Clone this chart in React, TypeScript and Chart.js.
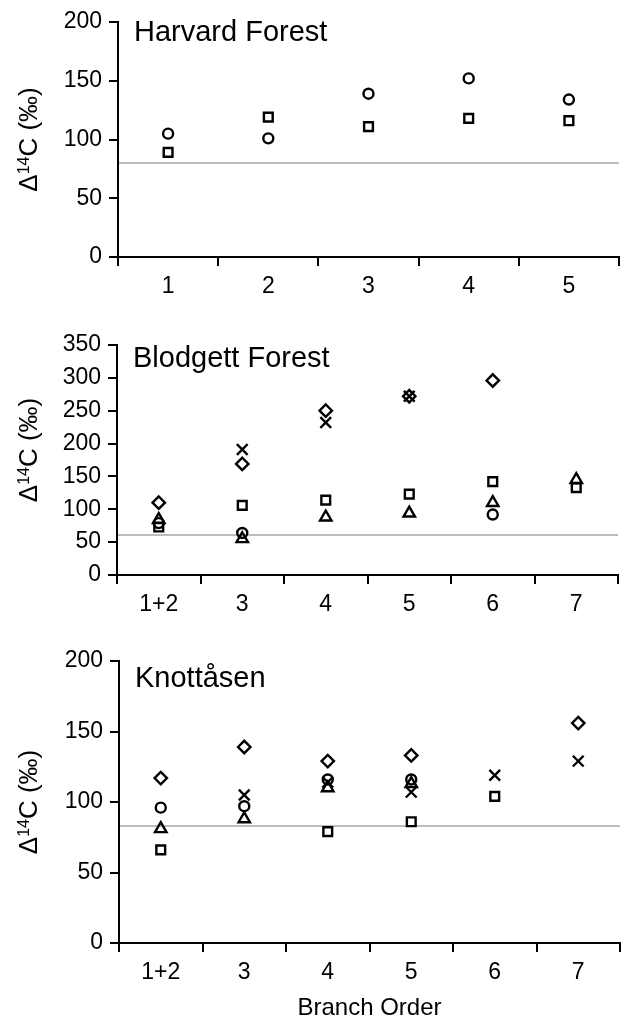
import React, { useEffect, useRef } from "react";
import { Chart, registerables } from "chart.js";

Chart.register(...registerables);

const FONT = "'Liberation Sans', Arial, Helvetica, sans-serif";

// ---------- Harvard Forest ----------
const harvardCategories = ["1", "2", "3", "4", "5"];
const harvardCircle = [105, 101, 139, 152, 134];
const harvardSquare = [89, 119, 111, 118, 116];
const harvardReference = 80;
const harvardMax = 200;

// ---------- Blodgett Forest ----------
const blodgettCategories = ["1+2", "3", "4", "5", "6", "7"];
const blodgettDiamond = [110, 169, 250, 272, 296, null];
const blodgettCross = [null, 191, 232, 272, null, null];
const blodgettSquare = [73, 106, 114, 123, 142, 133];
const blodgettTriangle = [84, 55, 88, 94, 110, 145];
const blodgettCircle = [79, 64, null, null, 92, null];
const blodgettReference = 61;
const blodgettMax = 350;

// ---------- Knottåsen ----------
const knottasenCategories = ["1+2", "3", "4", "5", "6", "7"];
const knottasenDiamond = [117, 139, 129, 133, null, 156];
const knottasenCross = [null, 105, 114, 107, 119, 129];
const knottasenCircle = [96, 97, 116, 116, null, null];
const knottasenTriangle = [81, 88, 110, 113, null, null];
const knottasenSquare = [66, null, 79, 86, 104, null];
const knottasenReference = 83;
const knottasenMax = 200;

const tickStep = 50;

type Series = { name: string; style: string; data: (number | null)[] };

const markerRadius: Record<string, number> = {
  circle: 5,
  rect: 6.2,
  triangle: 6.6,
  rectRot: 6.2,
  crossRot: 7.6,
};

type Panel = {
  title: string;
  categories: string[];
  series: Series[];
  reference: number;
  max: number;
  top: number;
  height: number;
  padTop: number;
  padRight: number;
  padBottom: number;
  axisLeft: number;
  titleBaseline: number; // offset from chart area top
  yTitleShift: number;
  xTitle?: string;
};

const panels: Panel[] = [
  {
    title: "Harvard Forest",
    categories: harvardCategories,
    series: [
      { name: "circle", style: "circle", data: harvardCircle },
      { name: "square", style: "rect", data: harvardSquare },
    ],
    reference: harvardReference,
    max: harvardMax,
    top: 0,
    height: 310,
    padTop: 22,
    padRight: 21,
    padBottom: 13,
    axisLeft: 118,
    titleBaseline: 19,
    yTitleShift: 0,
  },
  {
    title: "Blodgett Forest",
    categories: blodgettCategories,
    series: [
      { name: "diamond", style: "rectRot", data: blodgettDiamond },
      { name: "cross", style: "crossRot", data: blodgettCross },
      { name: "square", style: "rect", data: blodgettSquare },
      { name: "triangle", style: "triangle", data: blodgettTriangle },
      { name: "circle", style: "circle", data: blodgettCircle },
    ],
    reference: blodgettReference,
    max: blodgettMax,
    top: 310,
    height: 310,
    padTop: 35,
    padRight: 22,
    padBottom: 5,
    axisLeft: 117,
    titleBaseline: 22,
    yTitleShift: -10,
  },
  {
    title: "Knottåsen",
    categories: knottasenCategories,
    series: [
      { name: "diamond", style: "rectRot", data: knottasenDiamond },
      { name: "cross", style: "crossRot", data: knottasenCross },
      { name: "circle", style: "circle", data: knottasenCircle },
      { name: "triangle", style: "triangle", data: knottasenTriangle },
      { name: "square", style: "rect", data: knottasenSquare },
    ],
    reference: knottasenReference,
    max: knottasenMax,
    top: 620,
    height: 396,
    padTop: 41,
    padRight: 20,
    padBottom: 33,
    axisLeft: 119,
    titleBaseline: 26,
    yTitleShift: 0,
    xTitle: "Branch Order",
  },
];

function drawYTitle(ctx: CanvasRenderingContext2D, cx: number, cy: number) {
  const big = 26;
  const small = 16;
  ctx.save();
  ctx.translate(cx, cy);
  ctx.rotate(-Math.PI / 2);
  ctx.fillStyle = "#000";
  ctx.textBaseline = "alphabetic";
  ctx.textAlign = "left";
  ctx.font = `${big}px ${FONT}`;
  const wD = ctx.measureText("Δ").width;
  const wRest = ctx.measureText("C (‰)").width;
  ctx.font = `${small}px ${FONT}`;
  const wSup = ctx.measureText("14").width;
  const total = wD + wSup + wRest;
  let x = -total / 2;
  ctx.font = `${big}px ${FONT}`;
  ctx.fillText("Δ", x, 0);
  x += wD;
  ctx.font = `${small}px ${FONT}`;
  ctx.fillText("14", x, -big * 0.716 + small * 0.716);
  x += wSup;
  ctx.font = `${big}px ${FONT}`;
  ctx.fillText("C (‰)", x, 0);
  ctx.restore();
}

function makePlugin(p: Panel) {
  return {
    id: "panelDecor",
    beforeDatasetsDraw(chart: any) {
      const { ctx, chartArea, scales } = chart;
      const y = scales.y.getPixelForValue(p.reference);
      ctx.save();
      ctx.strokeStyle = "#bdbdbd";
      ctx.lineWidth = 2;
      ctx.beginPath();
      ctx.moveTo(chartArea.left + 1, y);
      ctx.lineTo(chartArea.right, y);
      ctx.stroke();
      ctx.restore();
    },
    afterDraw(chart: any) {
      const { ctx, chartArea } = chart;
      ctx.save();
      ctx.fillStyle = "#000";
      ctx.font = `29px ${FONT}`;
      ctx.textAlign = "left";
      ctx.textBaseline = "alphabetic";
      ctx.fillText(p.title, chartArea.left + 16, chartArea.top + p.titleBaseline);
      if (p.xTitle) {
        ctx.font = `24px ${FONT}`;
        ctx.textAlign = "center";
        ctx.fillText(p.xTitle, (chartArea.left + chartArea.right) / 2, chartArea.bottom + 72);
      }
      ctx.restore();
      drawYTitle(ctx, 36.5, (chartArea.top + chartArea.bottom) / 2 + p.yTitleShift);
    },
  };
}

function PanelChart({ p }: { p: Panel }) {
  const ref = useRef<HTMLCanvasElement | null>(null);
  useEffect(() => {
    if (!ref.current) return;
    const tickFont = { family: FONT, size: 23 };
    const chart = new Chart(ref.current, {
      type: "line",
      data: {
        labels: p.categories,
        datasets: p.series.map((s) => ({
          label: s.name,
          data: s.data,
          showLine: false,
          pointStyle: s.style as any,
          pointRadius: markerRadius[s.style],
          pointHoverRadius: markerRadius[s.style],
          pointBorderWidth: 2.4,
          borderWidth: 2.4,
          borderColor: "#000",
          backgroundColor: "rgba(0,0,0,0)",
          pointBackgroundColor: "rgba(0,0,0,0)",
          pointBorderColor: "#000",
          clip: false as any,
        })),
      },
      options: {
        animation: false,
        responsive: false,
        maintainAspectRatio: false,
        events: [],
        layout: {
          padding: { left: 0, top: p.padTop, right: p.padRight, bottom: p.padBottom },
        },
        plugins: {
          legend: { display: false },
          tooltip: { enabled: false },
          title: { display: false },
        },
        scales: {
          x: {
            type: "category",
            offset: true,
            grid: {
              display: true,
              offset: true,
              drawOnChartArea: false,
              drawTicks: true,
              tickLength: 9,
              tickWidth: 2,
              tickColor: "#000",
              color: "#000",
              lineWidth: 2,
            },
            border: { display: true, color: "#000", width: 2 },
            ticks: {
              color: "#000",
              font: tickFont,
              padding: 7,
              maxRotation: 0,
              autoSkip: false,
            },
            afterFit: (s: any) => {
              s.height = 40;
            },
          },
          y: {
            type: "linear",
            min: 0,
            max: p.max,
            grid: {
              display: true,
              drawOnChartArea: false,
              drawTicks: true,
              tickLength: 9,
              tickWidth: 2,
              tickColor: "#000",
              color: "#000",
              lineWidth: 2,
            },
            border: { display: true, color: "#000", width: 2 },
            ticks: {
              stepSize: tickStep,
              color: "#000",
              font: tickFont,
              padding: 7,
            },
            afterFit: (s: any) => {
              s.width = p.axisLeft;
            },
          },
        },
      },
      plugins: [makePlugin(p)],
    });
    return () => chart.destroy();
  }, [p]);
  return (
    <canvas
      ref={ref}
      width={640}
      height={p.height}
      style={{ position: "absolute", left: 0, top: p.top, width: 640, height: p.height, display: "block" }}
    />
  );
}

export default function App() {
  return (
    <div
      style={{
        position: "absolute",
        left: 0,
        top: 0,
        width: 640,
        height: 1016,
        background: "#fff",
        overflow: "hidden",
      }}
    >
      {panels.map((p) => (
        <PanelChart key={p.title} p={p} />
      ))}
    </div>
  );
}
